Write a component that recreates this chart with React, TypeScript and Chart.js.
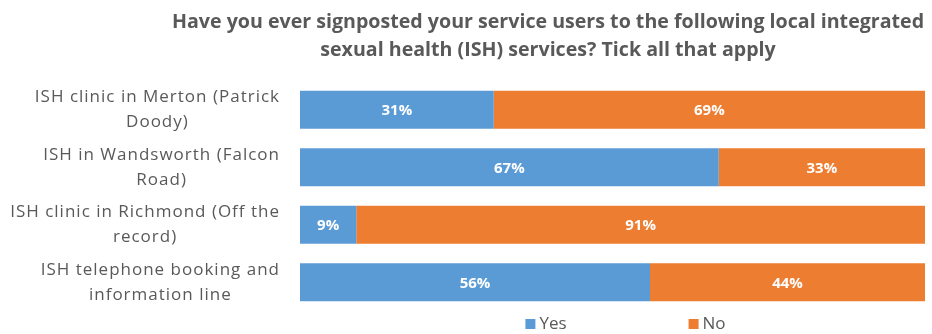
import React, { useEffect, useRef } from "react";
import { Chart, registerables } from "chart.js";

Chart.register(...registerables);

const titleLines = [
  "Have you ever signposted your service users to the following local integrated",
  "sexual health (ISH) services? Tick all that apply",
];
const categories: string[][] = [
  ["ISH clinic in Merton (Patrick", "Doody)"],
  ["ISH in Wandsworth (Falcon", "Road)"],
  ["ISH clinic in Richmond (Off the", "record)"],
  ["ISH telephone booking and", "information line"],
];
const yesValues = [31, 67, 9, 56];
const noValues = [69, 33, 91, 44];
const seriesNames = ["Yes", "No"];
const seriesColors = ["#5B9BD5", "#ED7D31"];

const FONT = "'Open Sans', Lato, sans-serif";
const GREY = "#595959";

const titlePlugin = {
  id: "customTitle",
  afterDraw(chart: any) {
    const ctx = chart.ctx;
    ctx.save();
    ctx.fillStyle = GREY;
    ctx.font = `bold 18px ${FONT}`;
    const w = ctx.measureText(titleLines[0]).width;
    const size = Math.max(14, Math.min(20, (18 * 753) / w));
    ctx.font = `bold ${size.toFixed(2)}px ${FONT}`;
    ctx.textAlign = "center";
    ctx.textBaseline = "middle";
    const cx = 548;
    ctx.fillText(titleLines[0], cx, 22);
    ctx.fillText(titleLines[1], cx, 50);
    ctx.restore();
  },
};

const yLabelPlugin = {
  id: "yLabels",
  afterDraw(chart: any) {
    const ctx = chart.ctx;
    const scale = chart.scales.y;
    const right = chart.chartArea.left - 20;
    ctx.save();
    ctx.fillStyle = GREY;
    ctx.font = `17px ${FONT}`;
    try {
      (ctx as any).letterSpacing = "1px";
    } catch (e) {}
    ctx.textBaseline = "middle";
    ctx.textAlign = "left";
    const lh = 25;
    (chart.data.labels as string[][]).forEach((lines, i) => {
      const cy = scale.getPixelForTick(i);
      const widths = lines.map((l) => ctx.measureText(l).width);
      const maxW = Math.max(...widths);
      const cx = right - maxW / 2;
      const y0 = cy - ((lines.length - 1) * lh) / 2;
      lines.forEach((l, j) => ctx.fillText(l, cx - widths[j] / 2, y0 + j * lh));
    });
    ctx.restore();
  },
};

const dataLabelPlugin = {
  id: "dataLabels",
  afterDatasetsDraw(chart: any) {
    const ctx = chart.ctx;
    ctx.save();
    ctx.fillStyle = "#FFFFFF";
    ctx.font = `bold 15px ${FONT}`;
    ctx.textAlign = "center";
    ctx.textBaseline = "middle";
    chart.data.datasets.forEach((ds: any, di: number) => {
      const meta = chart.getDatasetMeta(di);
      meta.data.forEach((bar: any, i: number) => {
        const x = (bar.x + bar.base) / 2;
        ctx.fillText(`${ds.data[i]}%`, x, bar.y + 1);
      });
    });
    ctx.restore();
  },
};

const legendPlugin = {
  id: "customLegend",
  afterDraw(chart: any) {
    const ctx = chart.ctx;
    const area = chart.chartArea;
    ctx.save();
    ctx.font = `17px ${FONT}`;
    ctx.textBaseline = "middle";
    ctx.textAlign = "left";
    const box = 10;
    const gap = 122;
    const y = 324;
    const widths = chart.data.datasets.map(
      (ds: any) => box + 4 + ctx.measureText(ds.label).width
    );
    const total = widths.reduce((a: number, b: number) => a + b, 0) + gap * (widths.length - 1);
    let x = (area.left + area.right) / 2 + 13 - total / 2;
    chart.data.datasets.forEach((ds: any, i: number) => {
      ctx.fillStyle = ds.backgroundColor;
      ctx.fillRect(x, y - 5, box, box);
      ctx.fillStyle = GREY;
      ctx.fillText(ds.label, x + box + 4, y);
      x += widths[i] + gap;
    });
    ctx.restore();
  },
};

export default function App() {
  const ref = useRef<HTMLCanvasElement | null>(null);
  useEffect(() => {
    document.body.style.margin = "0";
    if (!ref.current) return;
    const chart = new Chart(ref.current, {
      type: "bar",
      data: {
        labels: categories,
        datasets: [
          { label: seriesNames[0], data: yesValues, backgroundColor: seriesColors[0], borderWidth: 0 },
          { label: seriesNames[1], data: noValues, backgroundColor: seriesColors[1], borderWidth: 0 },
        ],
      },
      options: {
        indexAxis: "y",
        responsive: false,
        animation: false,
        maintainAspectRatio: false,
        layout: { padding: { top: 81, bottom: 23, left: 0, right: 7 } },
        datasets: { bar: { barPercentage: 0.66, categoryPercentage: 1 } },
        plugins: {
          legend: { display: false },
          title: { display: false },
          tooltip: { enabled: false },
        },
        scales: {
          x: { stacked: true, min: 0, max: 100, display: false },
          y: {
            stacked: true,
            grid: { display: false, drawTicks: false },
            border: { display: false },
            ticks: { display: false },
            afterFit(scale: any) {
              scale.width = 300;
            },
          },
        },
      },
      plugins: [titlePlugin, yLabelPlugin, dataLabelPlugin, legendPlugin],
    });
    return () => chart.destroy();
  }, []);
  return (
    <div style={{ width: 932, height: 334 }}>
      <canvas ref={ref} width={932} height={334} style={{ display: "block" }} />
    </div>
  );
}
